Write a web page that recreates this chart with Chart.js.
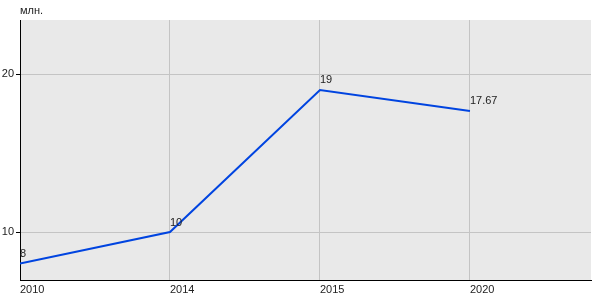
<!DOCTYPE html>
<html>
<head>
<meta charset="utf-8">
<script src="https://cdn.jsdelivr.net/npm/chart.js@4"></script>
<style>
  html, body { margin: 0; padding: 0; background: #fff; }
  canvas { display: block; }
</style>
</head>
<body>
<canvas id="chart" width="600" height="300"></canvas>
<script>
// --- Data ---
const years = ['2010', '2014', '2015', '2020'];
const values = [8, 10, 19, 17.67];
const valueLabels = ['8', '10', '19', '17.67'];
const yTicks = [10, 20];
const unitLabel = 'млн.';

const FONT = '"Liberation Sans", Arial, sans-serif';

// plot background
const bgPlugin = {
  id: 'bg',
  beforeDraw(chart) {
    const { ctx, chartArea: a } = chart;
    ctx.save();
    ctx.fillStyle = '#e9e9e9';
    ctx.fillRect(a.left, a.top, a.right - a.left, a.bottom - a.top);
    ctx.restore();
  }
};

// value labels + unit label
const textPlugin = {
  id: 'texts',
  afterDatasetsDraw(chart) {
    const { ctx, chartArea: a } = chart;
    const meta = chart.getDatasetMeta(0);
    ctx.save();
    ctx.font = '11px ' + FONT;
    ctx.fillStyle = '#222';
    ctx.textAlign = 'left';
    ctx.textBaseline = 'bottom';
    meta.data.forEach((pt, i) => {
      ctx.fillText(valueLabels[i], pt.x, pt.y - 4);
    });
    ctx.textBaseline = 'middle';
    ctx.fillText(unitLabel, a.left, 11);
    ctx.restore();
  }
};

new Chart(document.getElementById('chart').getContext('2d'), {
  type: 'line',
  data: {
    datasets: [{
      data: values.map((v, i) => ({ x: i, y: v })),
      borderColor: '#0044e0',
      borderWidth: 2,
      pointRadius: 0,
      tension: 0,
      fill: false
    }]
  },
  options: {
    responsive: false,
    animation: false,
    layout: { padding: { top: 20, right: 9, left: 0, bottom: 0 } },
    plugins: { legend: { display: false }, tooltip: { enabled: false } },
    scales: {
      x: {
        type: 'linear',
        min: 0,
        max: 3.807,
        afterBuildTicks: s => { s.ticks = years.map((_, i) => ({ value: i })); },
        afterFit: s => { s.height = 20; },
        grid: { color: '#c4c4c4', drawTicks: false },
        border: { color: '#000', width: 1 },
        ticks: {
          align: 'start',
          padding: 3,
          maxRotation: 0,
          color: '#222',
          font: { family: FONT, size: 11 },
          callback: v => years[v]
        }
      },
      y: {
        min: 6.96,
        max: 23.43,
        afterBuildTicks: s => { s.ticks = yTicks.map(v => ({ value: v })); },
        afterFit: s => { s.width = 20; },
        grid: { color: '#c4c4c4', tickColor: '#000', tickLength: 4 },
        border: { color: '#000', width: 1 },
        ticks: {
          padding: 2,
          color: '#222',
          font: { family: FONT, size: 11 }
        }
      }
    }
  },
  plugins: [bgPlugin, textPlugin]
});
</script>
</body>
</html>
